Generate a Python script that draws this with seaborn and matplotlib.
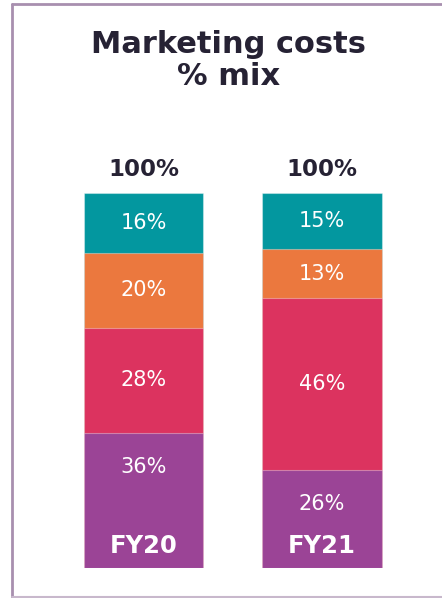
import matplotlib.pyplot as plt
import numpy as np
import pandas as pd
import seaborn as sns
from matplotlib.lines import Line2D

# data
years = ["FY20", "FY21"]
segments = ["purple", "red", "orange", "teal"]  # bottom -> top
purple = [36, 26]
red = [28, 46]
orange = [20, 13]
teal = [16, 15]
totals = ["100%", "100%"]

colors = {"purple": "#9B4496", "red": "#DC335F", "orange": "#EB783E", "teal": "#03979F"}
dark = "#262234"

sns.set_theme(style="white")
plt.rcParams["font.family"] = ["DejaVu Sans"]

df = pd.DataFrame({"year": years, "purple": purple, "red": red, "orange": orange, "teal": teal})
cum = df[segments].cumsum(axis=1)

fig = plt.figure(figsize=(4.42, 5.98), dpi=100)
ax = fig.add_axes([0.1227, 0.0502, 0.8077, 0.6271])

# stacked bars: draw the tallest cumulative first, smaller ones on top
for seg in reversed(segments):
    sns.barplot(x=df["year"], y=cum[seg], color=colors[seg], width=0.667,
                edgecolor=(1, 1, 1, 0.35), linewidth=0.8, saturation=1, ax=ax)

ax.set_xlim(-0.5, 1.5)
ax.set_ylim(0, 100)
ax.axis("off")

for i, yr in enumerate(years):
    bottoms = cum.iloc[i] - df.loc[i, segments]
    for seg in segments:
        val = df.loc[i, seg]
        if seg == "purple":
            ypos = cum.loc[i, seg] - 9
        else:
            ypos = bottoms[seg] + val / 2
        ax.text(i, ypos, f"{val}%", ha="center", va="center", color="white",
                fontsize=15, fontweight="medium")
    ax.text(i, 5.9, yr, ha="center", va="center", color="white",
            fontsize=17.5, fontweight="bold")
    ax.text(i, 106.2, totals[i], ha="center", va="center", color=dark,
            fontsize=16.5, fontweight="bold", clip_on=False)

fig.text(0.516, 0.899, "Marketing costs\n% mix", ha="center", va="center",
         color=dark, fontsize=22, fontweight="bold", linespacing=1.13)

# frame lines
border = "#A88FAF"
fig.add_artist(Line2D([11.5 / 442, 11.5 / 442], [1 - 4 / 598, 1 - 597 / 598],
                      transform=fig.transFigure, color=border, lw=2))
fig.add_artist(Line2D([11.5 / 442, 1], [1 - 4 / 598, 1 - 4 / 598],
                      transform=fig.transFigure, color=border, lw=2))
fig.add_artist(Line2D([11.5 / 442, 1], [1 - 597 / 598, 1 - 597 / 598],
                      transform=fig.transFigure, color="#C8B8CC", lw=1.5))

fig.savefig("out.png", dpi=100)
